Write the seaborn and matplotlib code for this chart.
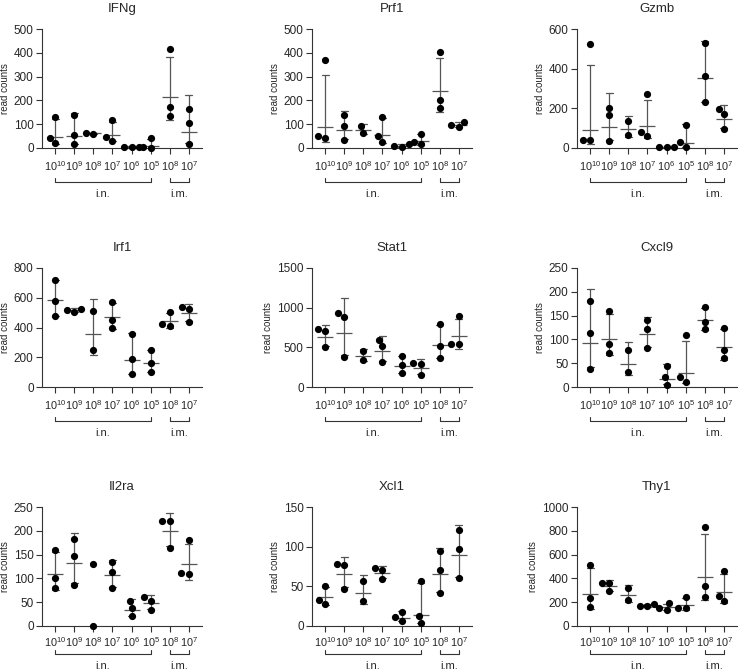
import numpy as np
import pandas as pd
import matplotlib
matplotlib.use('Agg')
import matplotlib.pyplot as plt
import matplotlib.transforms as mtransforms
import seaborn as sns

# groups on the x axis (dose, route)
groups = ['in_1e10', 'in_1e9', 'in_1e8', 'in_1e7', 'in_1e6', 'in_1e5', 'im_1e8', 'im_1e7']
group_labels = ['$10^{10}$', '$10^{9}$', '$10^{8}$', '$10^{7}$', '$10^{6}$', '$10^{5}$',
                '$10^{8}$', '$10^{7}$']

genes = ['IFNg', 'Prf1', 'Gzmb', 'Irf1', 'Stat1', 'Cxcl9', 'Il2ra', 'Xcl1', 'Thy1']

# read counts per mouse, one list per group
ifng = [[20, 132, 40], [139, 55, 15], [60, 63], [31, 118, 45], [3, 6, 6],
        [2, 44, 5], [414, 174, 134], [164, 106, 17]]
prf1 = [[40, 370, 49], [139, 93, 35], [93, 64], [132, 49, 24], [6, 15, 10],
        [15, 60, 26], [403, 202, 170], [110, 88, 97]]
gzmb = [[525, 38, 40], [203, 166, 35], [136, 64], [271, 59, 80], [4, 5, 5],
        [114, 28, 5], [530, 364, 231], [198, 169, 97]]
irf1 = [[720, 577, 478], [505, 527, 518], [512, 252], [572, 451, 400], [353, 188, 87],
        [252, 159, 103], [413, 507, 424], [541, 434, 525]]
stat1 = [[729, 700, 500], [929, 879, 379], [454, 346], [592, 512, 312], [387, 275, 171],
         [304, 296, 150], [796, 521, 367], [900, 546, 546]]
cxcl9 = [[181, 114, 38], [160, 91, 72], [78, 31], [140, 121, 81], [44, 20, 5],
         [11, 109, 21], [168, 137, 121], [125, 78, 60]]
il2ra = [[160, 101, 80], [183, 148, 87], [130, 0], [134, 113, 80], [53, 38, 20],
         [61, 34, 53], [221, 220, 164], [181, 109, 111]]
xcl1 = [[51, 28, 33], [78, 77, 47], [57, 31], [73, 71, 59], [18, 11, 6],
        [57, 13, 4], [94, 71, 42], [121, 97, 60]]
thy1 = [[515, 235, 157], [364, 364, 291], [319, 216], [165, 188, 171], [137, 193, 148],
        [151, 241, 154], [835, 333, 246], [462, 252, 207]]

gene_values = [ifng, prf1, gzmb, irf1, stat1, cxcl9, il2ra, xcl1, thy1]
y_max = [500, 500, 600, 800, 1500, 250, 250, 150, 1000]
y_step = [100, 100, 200, 200, 500, 50, 50, 50, 200]


def geo_mean(v):
    vals = np.asarray(v.to_numpy(), dtype=float)
    if np.any(vals <= 0):
        return np.nan
    return float(np.exp(np.log(vals).mean()))


def geo_sd(v):
    # geometric mean x/÷ geometric SD
    vals = np.asarray(v.to_numpy(), dtype=float)
    if np.any(vals <= 0) or len(vals) < 2:
        return np.nan, np.nan
    lv = np.log(vals)
    m, s = lv.mean(), lv.std(ddof=1)
    return float(np.exp(m - s)), float(np.exp(m + s))


sns.set_style('ticks')
plt.rcParams['font.family'] = ['Liberation Sans', 'DejaVu Sans']
plt.rcParams['mathtext.fontset'] = 'custom'
plt.rcParams['mathtext.rm'] = 'Liberation Sans'
plt.rcParams['mathtext.it'] = 'Liberation Sans:italic'
plt.rcParams['mathtext.bf'] = 'Liberation Sans:bold'

W, H = 738, 670
fig = plt.figure(figsize=(W / 100, H / 100), dpi=100)

col_left = [42, 312, 577]
row_bottom = [148, 387, 626]
ax_w, ax_h = 160, 119
# bracket / route label offsets below the axis (fraction of axes height)
bracket_y = [-0.285, -0.285, -0.235]
route_y = [-0.385, -0.385, -0.335]
tick_pad = [4, 4, 2.5]
axis_col = '#333333'
bar_col = '#555555'

for i, gene in enumerate(genes):
    r, c = divmod(i, 3)
    ax = fig.add_axes([col_left[c] / W, 1 - row_bottom[r] / H, ax_w / W, ax_h / H])

    rows = []
    for g, vals in zip(groups, gene_values[i]):
        for v in vals:
            rows.append({'group': g, 'value': v})
    df = pd.DataFrame(rows)

    sns.pointplot(data=df, x='group', y='value', order=groups, ax=ax,
                  estimator=geo_mean, errorbar=geo_sd, capsize=0.36,
                  color=bar_col, marker='_', linestyle='none',
                  markersize=11, markeredgewidth=0.9, linewidth=0.9,
                  err_kws={'linewidth': 0.9})
    n_before = len(ax.collections)
    sns.swarmplot(data=df, x='group', y='value', order=groups, ax=ax,
                  color='black', size=5.2, zorder=3)
    for coll in ax.collections[n_before:]:
        coll.set_clip_on(False)

    ax.set_xlim(-0.7, 7.7)
    ax.set_ylim(0, y_max[i])
    ax.set_yticks(np.arange(0, y_max[i] + 1, y_step[i]))
    ax.set_xticks(range(len(groups)))
    ax.set_xticklabels(group_labels)
    ax.tick_params(axis='both', length=4, width=0.8, color=axis_col, pad=2)
    ax.tick_params(axis='y', labelsize=8.5)
    ax.tick_params(axis='x', labelsize=7.8, pad=tick_pad[r])
    for s in ['top', 'right']:
        ax.spines[s].set_visible(False)
    for s in ['left', 'bottom']:
        ax.spines[s].set_color(axis_col)
        ax.spines[s].set_linewidth(0.8)
    ax.set_xlabel('')
    ax.set_ylabel('read counts', fontsize=7, labelpad=3)
    ax.set_title(gene, fontsize=9.5, pad=12)

    # route brackets under the dose labels
    trans = mtransforms.blended_transform_factory(ax.transData, ax.transAxes)
    for a, b, lab in [(0, 5, 'i.n.'), (6, 7, 'i.m.')]:
        yb = bracket_y[r]
        ax.plot([a, a, b, b], [yb + 0.03, yb, yb, yb + 0.03], transform=trans,
                clip_on=False, color=axis_col, lw=0.8)
        ax.text((a + b) / 2, route_y[r], lab, transform=trans, ha='center',
                va='center', fontsize=8)

fig.savefig('out.png', dpi=100)
plt.close(fig)
